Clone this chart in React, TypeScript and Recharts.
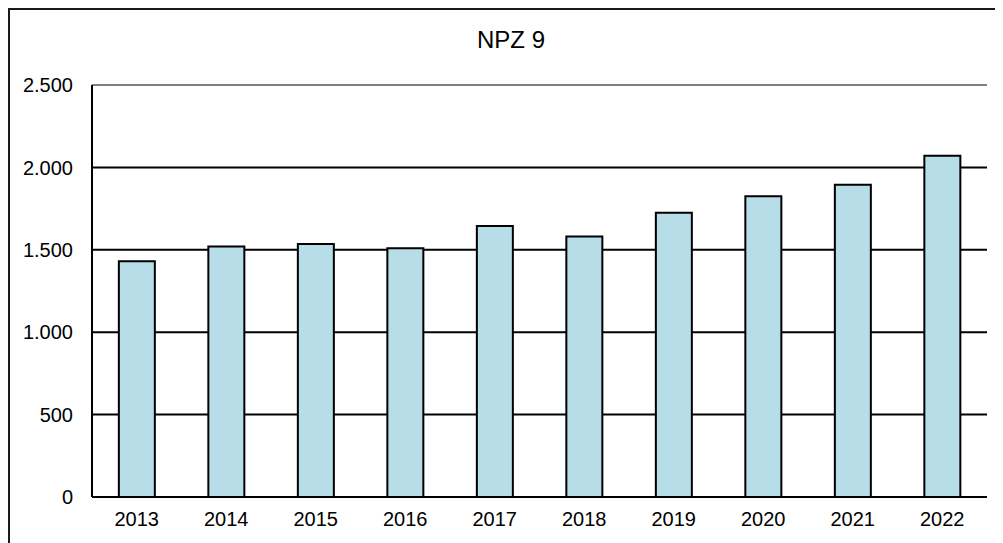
import React from 'react';
import {
  BarChart, Bar, XAxis, YAxis, CartesianGrid, ReferenceLine,
} from 'recharts';

const years = ['2013', '2014', '2015', '2016', '2017', '2018', '2019', '2020', '2021', '2022'];
const npz9 = [1430, 1520, 1535, 1510, 1645, 1580, 1725, 1825, 1895, 2070];
const yTicks = [0, 500, 1000, 1500, 2000, 2500];
const gridValues = [500, 1000, 1500, 2000];

const data = years.map((year, i) => ({ year, value: npz9[i] }));

const fmt = (v: number) => v.toLocaleString('de-DE');
const font = '"Liberation Sans", Arial, sans-serif';

export default function App() {
  return (
    <div
      style={{
        position: 'relative',
        width: 993,
        height: 533,
        borderLeft: '2px solid #1a1a1a',
        borderTop: '2px solid #1a1a1a',
        background: '#fff',
        fontFamily: font,
      }}
    >
      {/* title */}
      <div
        style={{
          position: 'absolute',
          left: 401,
          width: 200,
          top: 16,
          textAlign: 'center',
          fontSize: 24,
          color: '#000',
        }}
      >
        NPZ 9
      </div>
      <BarChart
        width={993}
        height={533}
        data={data}
        margin={{ top: 75, right: 16, bottom: 6, left: 0 }}
        barCategoryGap="30%"
      >
        <CartesianGrid
          vertical={false}
          horizontalValues={gridValues}
          stroke="#000"
          strokeWidth={2}
        />
        <XAxis
          dataKey="year"
          height={40}
          axisLine={{ stroke: '#000', strokeWidth: 2 }}
          tickLine={false}
          tickMargin={9}
          tick={{ fill: '#000', fontSize: 20, fontFamily: font }}
        />
        <YAxis
          domain={[0, 2500]}
          ticks={yTicks}
          width={82}
          axisLine={{ stroke: '#000', strokeWidth: 2 }}
          tickLine={false}
          tickMargin={13}
          tickFormatter={fmt}
          tick={{ fill: '#000', fontSize: 20, fontFamily: font }}
        />
        <YAxis
          yAxisId="frame"
          orientation="right"
          width={0}
          tick={false}
          tickLine={false}
          axisLine={{ stroke: '#a6a6a6', strokeWidth: 2 }}
        />
        <ReferenceLine y={2500} stroke="#808080" strokeWidth={2} />
        <Bar
          dataKey="value"
          fill="#b7dde8"
          stroke="#000"
          strokeWidth={2}
          isAnimationActive={false}
        />
      </BarChart>
    </div>
  );
}
